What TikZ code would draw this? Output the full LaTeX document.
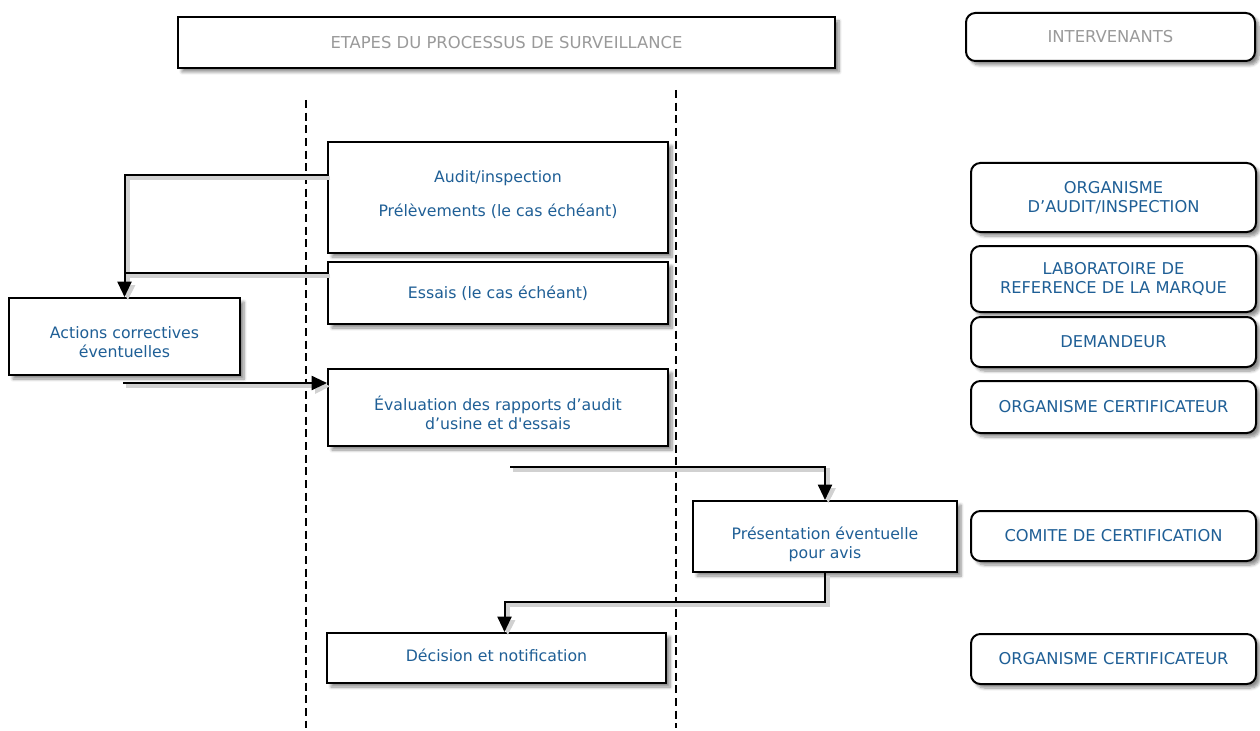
\documentclass[tikz,border=0pt]{standalone}
\usepackage{fontspec}
\setmainfont{DejaVu Sans}[Ligatures=TeXOff]
\usetikzlibrary{arrows.meta,shadows.blur,calc}
\definecolor{txtblue}{HTML}{1F5F96}
\definecolor{txtgray}{HTML}{9A9A9A}
\tikzset{
  boxshadow/.style={blur shadow={shadow xshift=3pt,shadow yshift=-3pt,shadow blur steps=6,shadow opacity=45}},
  stext/.style={align=center,text=txtblue,font=\fontsize{11.8}{14.3}\selectfont,inner sep=0pt},
  stepbox/.style={draw=black,line width=1.5pt,fill=white,boxshadow,inner sep=0pt,stext},
  actorbox/.style={stepbox,rounded corners=7pt,font=\fontsize{12.2}{14.6}\selectfont},
  headbox/.style={stepbox,text=txtgray,font=\fontsize{12.3}{14.6}\selectfont},
  conn/.style={line width=1.5pt,
    preaction={draw=black!18,line width=3pt,transform canvas={shift={(2.5pt,-2.5pt)}}}},
  arr/.style={conn,-{Triangle[length=11.5pt,width=10.5pt]}},
  dashline/.style={line width=1.5pt,dash pattern=on 6pt off 3.5pt}
}
\newcommand{\bw}[1]{#1*0.75pt}
\begin{document}
\begin{tikzpicture}[x=0.75pt,y=-0.75pt]
\useasboundingbox (0,0) rectangle (1260,731);
% dashed lane lines
\draw[dashline] (306,100) -- (306,728);
\draw[dashline] (676,90) -- (676,728);
% header
\node[headbox,rectangle,minimum width=\bw{657},minimum height=\bw{51}] (title) at (506.5,42.5) {ETAPES DU PROCESSUS DE SURVEILLANCE};
\node[headbox,rounded corners=7pt,minimum width=\bw{289},minimum height=\bw{48}] (interv) at (1110.5,37) {INTERVENANTS};
% steps
\node[stepbox,minimum width=\bw{340},minimum height=\bw{111},
  label={[stext,yshift=2pt]center:{Audit/inspection\\[11pt]Prélèvements (le cas échéant)}}] (aud) at (498,197.5) {};
\node[stepbox,minimum width=\bw{340},minimum height=\bw{62}] (ess) at (498,293) {Essais (le cas échéant)};
\node[stepbox,minimum width=\bw{231},minimum height=\bw{77},
  label={[stext,yshift=-4.5pt]center:{Actions correctives\\éventuelles}}] (act) at (124.5,336.5) {};
\node[stepbox,minimum width=\bw{340},minimum height=\bw{77},
  label={[stext,yshift=-3.8pt]center:{Évaluation des rapports d’audit\\d’usine et d'essais}}] (eval) at (498,407.5) {};
\node[stepbox,minimum width=\bw{264},minimum height=\bw{71},
  label={[stext,yshift=-6pt]center:{Présentation éventuelle\\pour avis}}] (pres) at (825,536.5) {};
\node[stepbox,minimum width=\bw{339},minimum height=\bw{50},
  label={[stext,yshift=2pt]center:{Décision et notification}}] (dec) at (496.5,658) {};
% actors
\node[actorbox,minimum width=\bw{285},minimum height=\bw{69}] (r1) at (1113.5,197.5) {ORGANISME\\D’AUDIT/INSPECTION};
\node[actorbox,minimum width=\bw{285},minimum height=\bw{66}] (r2) at (1113.5,279) {LABORATOIRE DE\\REFERENCE DE LA MARQUE};
\node[actorbox,minimum width=\bw{285},minimum height=\bw{50}] (r3) at (1113.5,342) {DEMANDEUR};
\node[actorbox,minimum width=\bw{285},minimum height=\bw{52}] (r4) at (1113.5,407) {ORGANISME CERTIFICATEUR};
\node[actorbox,minimum width=\bw{285},minimum height=\bw{50}] (r5) at (1113.5,536) {COMITE DE CERTIFICATION};
\node[actorbox,minimum width=\bw{285},minimum height=\bw{50}] (r6) at (1113.5,659) {ORGANISME CERTIFICATEUR};
% connectors
\coordinate (audout) at ($(aud.north west)!0.3!(aud.south west)$);
\coordinate (essout) at ($(ess.north west)!0.18!(ess.south west)$);
\coordinate (actout) at (123,383);
\coordinate (evalout) at (510,467);
\draw[arr] (audout) -| (act.north);
\draw[conn] (essout) -- (essout -| act.north);
\draw[arr] (actout) -- (actout -| eval.west);
\draw[arr] (evalout) -| (pres.north);
\draw[arr] (pres.south) |- ([shift={(8,-30)}]dec.north) -- ([xshift=6pt]dec.north);
\end{tikzpicture}
\end{document}
